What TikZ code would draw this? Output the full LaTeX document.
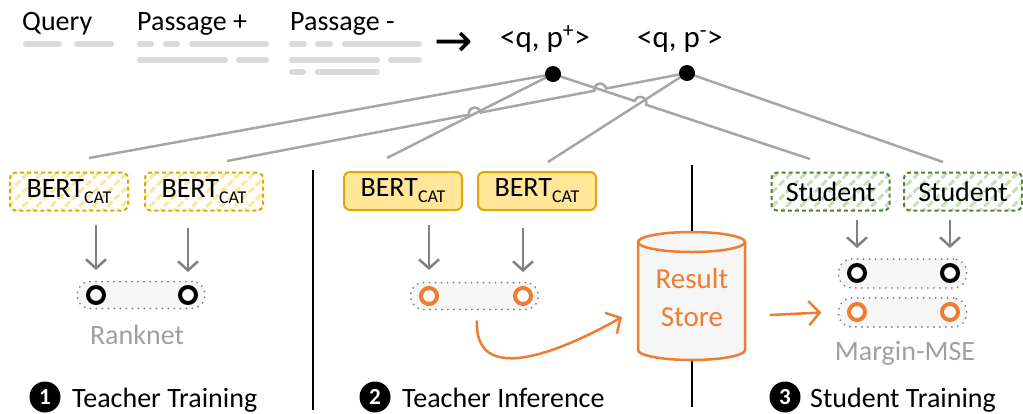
\documentclass[tikz,border=0pt]{standalone}
\usepackage{fontspec}
\setmainfont{Carlito}
\newfontfamily\symfont{DejaVu Sans}
\usetikzlibrary{calc,arrows.meta,patterns.meta}

\definecolor{wiregray}{RGB}{166,166,166}
\definecolor{bargray}{RGB}{217,217,217}
\definecolor{arrowgray}{RGB}{128,128,128}
\definecolor{labelgray}{RGB}{160,160,160}
\definecolor{pillgray}{RGB}{246,246,246}
\definecolor{bertgold}{RGB}{224,168,0}
\definecolor{bertfill}{RGB}{255,230,153}
\definecolor{stugreen}{RGB}{84,130,53}
\definecolor{stulight}{RGB}{197,224,180}
\definecolor{resorange}{RGB}{237,125,49}

\tikzset{
  model/.style={rounded corners=6pt,line width=2pt,minimum width=118pt,minimum height=38pt,inner sep=0pt},
  teachertrain/.style={model,draw=bertgold,dash pattern=on 4pt off 3pt,
    pattern={Lines[angle=45,distance=10pt,line width=3pt]},pattern color=bertfill},
  teacherfixed/.style={model,draw=bertgold,fill=bertfill},
  studenttrain/.style={model,draw=stugreen,dash pattern=on 4pt off 3pt,
    pattern={Lines[angle=45,distance=10pt,line width=3pt]},pattern color=stulight},
  wire/.style={draw=wiregray,line width=2.5pt},
  textbar/.style={draw=bargray,line width=6pt,line cap=round},
  qdot/.style={circle,fill=black,inner sep=0pt,minimum size=16pt},
  pill/.style={rounded corners=13pt,draw=arrowgray,line width=2pt,dash pattern=on 0pt off 6pt,
    line cap=round,fill=pillgray,minimum width=128pt,minimum height=27pt,inner sep=0pt},
  ring/.style={circle,draw=#1,fill=white,line width=4pt,minimum size=16pt,inner sep=0pt},
  down/.style={draw=arrowgray,line width=2.5pt,-{Straight Barb[length=9pt,width=20pt]}},
  feed/.style={draw=resorange,line width=2.5pt,-{Straight Barb[length=11pt,width=24pt]}},
  sep/.style={draw=black,line width=2pt},
  phasenum/.style={circle,fill=black,text=white,minimum size=31pt,inner sep=0pt,
    font=\fontsize{23}{23}\selectfont\bfseries},
  pairtext/.style={anchor=base west,inner sep=0pt,font=\fontsize{31}{31}\selectfont}
}
\newcommand{\bertcat}{BERT{\fontsize{18}{18}\selectfont\raisebox{-6pt}{CAT}}}

\begin{document}
\begin{tikzpicture}[x=1pt,y=1pt,font=\fontsize{28}{33}\selectfont]
\useasboundingbox (0,0) rectangle (1023,-413);

% input texts
\node[anchor=base west,inner sep=0pt] (query) at (22,-30) {Query};
\node[anchor=base west,inner sep=0pt] (ppos) at (137,-30) {Passage +};
\node[anchor=base west,inner sep=0pt] (pneg) at (290,-30) {Passage -};
\foreach \xa/\xb/\yb in {26/59/44,77/111/44,140/151/44,166/177/44,192/266/44,
    292/304/44,318/330/44,345/419/44,140/225/60,239/266/60,292/377/60,391/419/60,
    292/303/72,318/377/72}
  \draw[textbar] (\xa,-\yb) -- (\xb,-\yb);
\node[anchor=base west,inner sep=0pt,font=\fontsize{46}{46}\symfont] (arr) at (434,-56) {→};
\node[pairtext] (qpos) at (500,-47) {<q, p\textsuperscript{+}>};
\node[pairtext] (qneg) at (637,-47) {<q, p\textsuperscript{-}>};

% models
\node[teachertrain] (bt1) at (69,-191.5) {\bertcat};
\node[teachertrain] (bt2) at (204,-191.5) {\bertcat};
\node[teacherfixed] (bi1) at (403,-191) {\bertcat};
\node[teacherfixed] (bi2) at (537,-191) {\bertcat};
\node[studenttrain] (st1) at (830.5,-191.5) {Student};
\node[studenttrain] (st2) at (963,-191.5) {Student};

% pair wiring
\coordinate (qpc) at (553,-74);
\coordinate (qnc) at (687,-73);
\coordinate (tt1in) at (89,-158);
\coordinate (tt2in) at (227,-161);
\coordinate (ti1in) at (387,-158);
\coordinate (ti2in) at (548,-162);
\coordinate (ts1in) at (810,-159);
\coordinate (ts2in) at (943,-162);
\coordinate (h1) at (intersection of qpc--ti1in and qnc--tt2in);
\coordinate (h2) at (intersection of qpc--ts1in and qnc--tt2in);
\coordinate (h3) at (intersection of qpc--ts1in and qnc--ti2in);
\draw[wire] (qpc) -- (tt1in);
\draw[wire] (qpc) -- (ti1in);
\draw[wire] (qpc) -- ($(h3)+(161.7:6pt)$) arc[start angle=161.7,end angle=-18.3,radius=6pt] -- (ts1in);
\draw[wire] (qnc) -- (ti2in);
\draw[wire] (qnc) -- (ts2in);
\draw[wire] (qnc) -- ($(h2)+(10.8:6pt)$) arc[start angle=10.8,end angle=190.8,radius=6pt]
  -- ($(h1)+(10.8:6pt)$) arc[start angle=10.8,end angle=190.8,radius=6pt] -- (tt2in);
\node[qdot] (qp) at (qpc) {};
\node[qdot] (qn) at (qnc) {};

% separators
\draw[sep] (313,-170) -- (313,-410);
\draw[sep] (692,-165) -- (692,-407);

% teacher training
\node[pill] (sc1) at (141,-295) {};
\node[ring=black] (r11) at (96,-295) {};
\node[ring=black] (r12) at (188,-295) {};
\draw[down] ([yshift=70pt]r11.center) -- ([yshift=25pt]r11.center);
\draw[down] ([yshift=67pt]r12.center) -- ([yshift=23pt]r12.center);
\node[anchor=base,text=labelgray] (rank) at (137,-344) {Ranknet};

% teacher inference
\node[pill] (sc2) at (474.5,-296) {};
\node[ring=resorange] (r21) at (429,-296) {};
\node[ring=resorange] (r22) at (523,-296) {};
\draw[down] ([yshift=71pt]r21.center) -- ([yshift=26pt]r21.center);
\draw[down] ([yshift=68pt]r22.center) -- ([yshift=24pt]r22.center);

% result store
\draw[draw=resorange,line width=2.5pt,fill=pillgray] (638,-242) -- (638,-350)
  arc[start angle=180,end angle=360,x radius=53.5pt,y radius=10pt] -- (745,-242)
  arc[start angle=0,end angle=180,x radius=53.5pt,y radius=10pt] -- cycle;
\draw[draw=resorange,line width=2.5pt] (638,-242) arc[start angle=180,end angle=360,x radius=53.5pt,y radius=10pt];
\node[align=center,text=resorange,font=\fontsize{29}{38}\selectfont] (store) at (692,-298) {Result\\Store};
\coordinate (storein) at (622,-317);
\coordinate (storeout) at (770,-315);
\draw[feed] ([xshift=2.5pt,yshift=-10pt]sc2.south) .. controls (474,-385) and (555,-355) .. (storein);

% student training
\node[pill,minimum height=29pt] (sc3a) at (902.5,-273.5) {};
\node[pill,minimum height=29pt] (sc3b) at (902.5,-312.5) {};
\node[ring=black] (r31) at (857,-273) {};
\node[ring=black] (r32) at (950,-273) {};
\node[ring=resorange] (r33) at (857,-312) {};
\node[ring=resorange] (r34) at (950,-312) {};
\draw[down] ([yshift=53pt]r31.center) -- ([yshift=25pt]r31.center);
\draw[down] ([yshift=53pt]r32.center) -- ([yshift=25pt]r32.center);
\draw[feed] (storeout) -- ([xshift=-16pt]sc3b.west);
\node[anchor=base,text=labelgray] (mmse) at (905,-360) {Margin-MSE};

% phase captions
\node[phasenum] (n1) at (45,-397) {1};
\node[anchor=base west,inner sep=0pt] (cap1) at (72,-407) {Teacher Training};
\node[phasenum] (n2) at (375,-397) {2};
\node[anchor=base west,inner sep=0pt] (cap2) at (402,-407) {Teacher Inference};
\node[phasenum] (n3) at (785,-397) {3};
\node[anchor=base west,inner sep=0pt] (cap3) at (810,-407) {Student Training};
\end{tikzpicture}
\end{document}
